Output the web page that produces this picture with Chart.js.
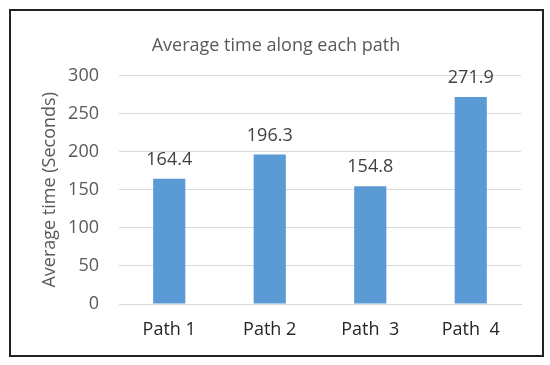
<!DOCTYPE html>
<html>
<head>
<meta charset="utf-8">
<script src="https://cdn.jsdelivr.net/npm/chart.js@4"></script>
<style>
  body { margin: 0; background: #fff; }
  #wrap { position: relative; width: 550px; height: 365px; }
  #frame { position: absolute; left: 9px; top: 9px; width: 531px; height: 344px; border: 2px solid #222; pointer-events: none; }
</style>
</head>
<body>
<div id="wrap">
  <canvas id="chart" width="550" height="365"></canvas>
  <div id="frame"></div>
</div>
<script>
const categories = ['Path 1', 'Path 2', 'Path  3', 'Path  4'];
const avgTime = [164.4, 196.3, 154.8, 271.9];
const yTicks = [0, 50, 100, 150, 200, 250, 300];

const FONT = 'Open Sans';

// draws the value above each bar
const valueLabels = {
    id: 'valueLabels',
    afterDatasetsDraw(chart) {
        const ctx = chart.ctx;
        const meta = chart.getDatasetMeta(0);
        ctx.save();
        ctx.font = '18px "' + FONT + '"';
        ctx.fillStyle = '#404040';
        ctx.textAlign = 'center';
        ctx.textBaseline = 'middle';
        meta.data.forEach((bar, i) => {
            ctx.fillText(avgTime[i].toFixed(1), bar.x, bar.y - 19);
        });
        ctx.restore();
    }
};

new Chart(document.getElementById('chart').getContext('2d'), {
    type: 'bar',
    data: {
        labels: categories,
        datasets: [{
            data: avgTime,
            backgroundColor: '#5B9BD5',
            barPercentage: 0.4,
            categoryPercentage: 0.8
        }]
    },
    options: {
        responsive: false,
        animation: false,
        devicePixelRatio: 1,
        layout: { padding: { left: 31, right: 29, top: 0, bottom: 12 } },
        plugins: {
            legend: { display: false },
            tooltip: { enabled: false },
            title: {
                display: true,
                text: 'Average time along each path',
                color: '#595959',
                font: { family: FONT, size: 18, weight: 'normal' },
                padding: { top: 35, bottom: 19 }
            }
        },
        scales: {
            y: {
                min: 0,
                max: 300,
                afterBuildTicks(scale) {
                    scale.ticks = yTicks.map(v => ({ value: v }));
                },
                afterFit(scale) { scale.width = 88; },
                border: { display: false },
                grid: { color: '#D9D9D9', drawTicks: false, lineWidth: 1 },
                ticks: {
                    color: '#595959',
                    padding: 20,
                    font: { family: FONT, size: 18 }
                },
                title: {
                    display: true,
                    text: 'Average time (Seconds)',
                    color: '#595959',
                    font: { family: FONT, size: 18 },
                    padding: { top: 8, bottom: 0 }
                }
            },
            x: {
                afterFit(scale) { scale.height = 49; },
                border: { color: '#D9D9D9' },
                grid: { display: false, drawTicks: false },
                ticks: {
                    color: '#262626',
                    padding: 15,
                    font: { family: FONT, size: 18 }
                }
            }
        }
    },
    plugins: [valueLabels]
});
</script>
</body>
</html>
